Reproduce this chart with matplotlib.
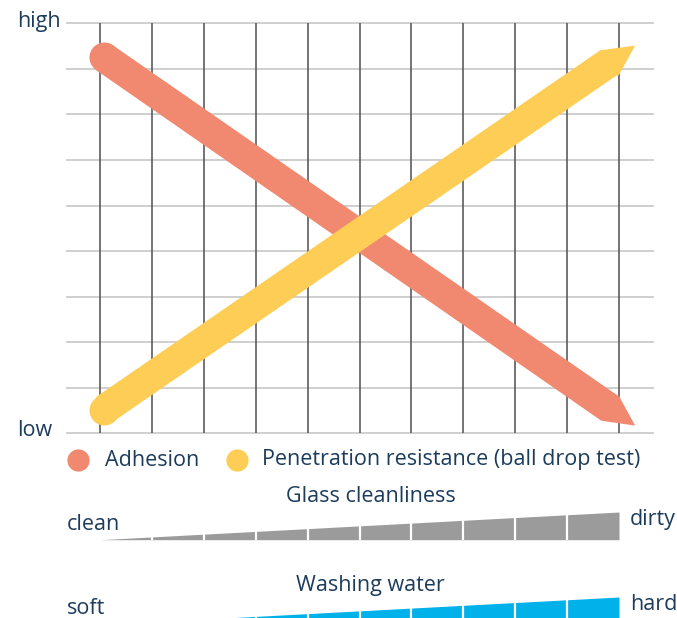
import numpy as np
import matplotlib.pyplot as plt
from matplotlib.lines import Line2D
from matplotlib.markers import MarkerStyle
from matplotlib.path import Path
from matplotlib.transforms import Affine2D

plt.rcParams['font.family'] = ['Open Sans', 'DejaVu Sans']

# trend lines (x = grid column, y = level from low to high)
adhesion_x = [0.08, 9.82]
adhesion_y = [8.25, 0.55]
penetration_x = [0.08, 9.82]
penetration_y = [0.52, 8.15]

grid_cols = list(range(11))
grid_rows = list(range(10))

# wedge heights at each column boundary
cleanliness_ramp = [0.0, 0.1, 0.2, 0.3, 0.4, 0.5, 0.6, 0.7, 0.8, 0.9, 1.0]
water_ramp = [0.0, 0.1, 0.2, 0.3, 0.4, 0.5, 0.6, 0.7, 0.8, 0.9, 1.0]

ORANGE = '#f08970'
YELLOW = '#fecd55'
GRAY = '#9b9b9b'
BLUE = '#00b1ea'
NAVY = '#1c3c5c'

W, H = 677, 618
DPI = 100
LW = 30 * 72 / DPI  # stroke width in points
FS = 15.5


def fx(px):
    return px / W


def fy(py):
    return 1 - py / H


fig = plt.figure(figsize=(W / DPI, H / DPI), dpi=DPI)

xlim = ((67 - 100) / 51.9, (653 - 100) / 51.9)
ax = fig.add_axes([fx(67), fy(433.3), fx(653) - fx(67), (433.3 - 23.3) / H])
ax.set_xlim(*xlim)
ax.set_ylim(0, 9)
ax.axis('off')

for r in grid_rows:
    ax.axhline(r, color='#cccccc', lw=1.3, zorder=1, clip_on=False)
ax.vlines(grid_cols, 0, 9, color='#5c5c5c', lw=1.2, zorder=2)


def tip_line(xs, ys, color, z):
    ax.plot(xs, ys, color=color, lw=LW, solid_capstyle='butt', zorder=z)
    ax.plot(xs[0], ys[0], 'o', color=color, ms=LW, mew=0, zorder=z)
    p0 = ax.transData.transform((xs[0], ys[0]))
    p1 = ax.transData.transform((xs[1], ys[1]))
    ang = np.degrees(np.arctan2(p1[1] - p0[1], p1[0] - p0[0]))
    # pointed end, overlapping the stroke a little to hide the seam
    head = Path([(-0.06, -0.5), (0, -0.5), (1, 0), (0, 0.5), (-0.06, 0.5),
                 (-0.06, -0.5)])
    m = MarkerStyle(head, transform=Affine2D().rotate_deg(ang))
    ax.plot(xs[1], ys[1], marker=m, color=color, ms=2 * LW, mew=0,
            zorder=z, clip_on=False)


tip_line(adhesion_x, adhesion_y, ORANGE, 3)
tip_line(penetration_x, penetration_y, YELLOW, 4)

fig.text(fx(17), fy(22), 'high', color=NAVY, fontsize=FS, va='center')
fig.text(fx(17), fy(431), 'low', color=NAVY, fontsize=FS, va='center')

# legend
for cx, col in [(78, ORANGE), (237, YELLOW)]:
    fig.add_artist(Line2D([fx(cx)], [fy(460)], marker='o', ms=16, mew=0,
                          color=col, transform=fig.transFigure))
fig.text(fx(105), fy(460), 'Adhesion', color=NAVY, fontsize=FS, va='center')
fig.text(fx(262), fy(460), 'Penetration resistance (ball drop test)',
         color=NAVY, fontsize=FS, va='center')


def wedge(bottom_py, ramp, color):
    wax = fig.add_axes([fx(67), fy(bottom_py), fx(653) - fx(67), 27.7 / H])
    wax.set_xlim(*xlim)
    wax.set_ylim(0, 1)
    wax.axis('off')
    wax.fill_between(grid_cols, 0, ramp, color=color, lw=0)
    wax.vlines(grid_cols[1:-1], 0, 1, color='white', lw=1.6)


wedge(539.7, cleanliness_ramp, GRAY)
fig.text(fx(371), fy(497), 'Glass cleanliness', color=NAVY, fontsize=FS,
         ha='center', va='center')
fig.text(fx(67), fy(525), 'clean', color=NAVY, fontsize=FS, va='center')
fig.text(fx(630), fy(520), 'dirty', color=NAVY, fontsize=FS, va='center')

wedge(624.7, water_ramp, BLUE)
fig.text(fx(370), fy(586), 'Washing water', color=NAVY, fontsize=FS,
         ha='center', va='center')
fig.text(fx(67), fy(608), 'soft', color=NAVY, fontsize=FS, va='center')
fig.text(fx(630), fy(605), 'hard', color=NAVY, fontsize=FS, va='center')

fig.savefig('out.png', dpi=DPI)
